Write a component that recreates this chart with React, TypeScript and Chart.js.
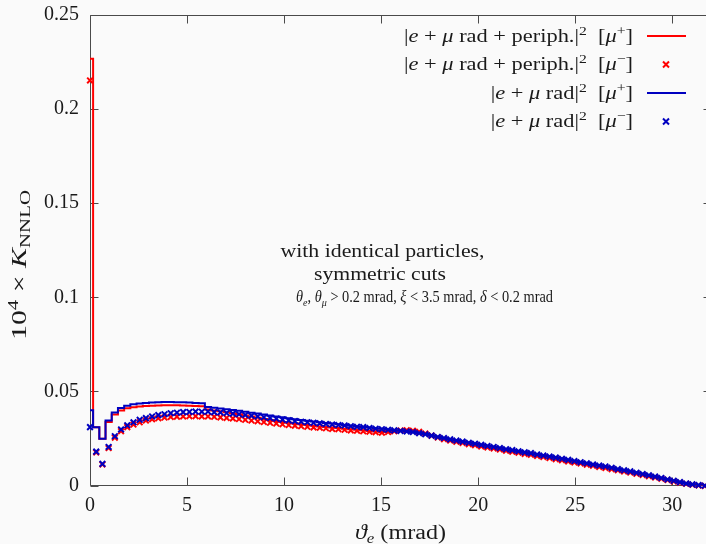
import React, { useEffect, useRef } from "react";
import { Chart, registerables } from "chart.js";
Chart.register(...registerables);

// theta_e bin positions (mrad)
const xBins = [0, 0.32, 0.64, 0.96, 1.28, 1.6, 1.92, 2.24, 2.56, 2.88, 3.2, 3.52, 3.84, 4.16, 4.48, 4.8, 5.12, 5.44, 5.76, 6.08,
  6.4, 6.72, 7.04, 7.36, 7.68, 8, 8.32, 8.64, 8.96, 9.28, 9.6, 9.92, 10.24, 10.56, 10.88, 11.2, 11.52, 11.84, 12.16, 12.48,
  12.8, 13.12, 13.44, 13.76, 14.08, 14.4, 14.72, 15.04, 15.36, 15.68, 16, 16.32, 16.64, 16.96, 17.28, 17.6, 17.92, 18.24, 18.56, 18.88,
  19.2, 19.52, 19.84, 20.16, 20.48, 20.8, 21.12, 21.44, 21.76, 22.08, 22.4, 22.72, 23.04, 23.36, 23.68, 24, 24.32, 24.64, 24.96, 25.28,
  25.6, 25.92, 26.24, 26.56, 26.88, 27.2, 27.52, 27.84, 28.16, 28.48, 28.8, 29.12, 29.44, 29.76, 30.08, 30.4, 30.72, 31.04, 31.36, 31.68];

// |e + mu rad + periph.|^2 [mu+]  (red step line)
const redLine = [0.2267, 0.0310, 0.0248, 0.0337, 0.0377, 0.0398, 0.0410, 0.0416, 0.0420, 0.0422,
  0.0424, 0.0425, 0.0426, 0.0426, 0.0426, 0.0425, 0.0424, 0.0423, 0.0421, 0.0404,
  0.0399, 0.0394, 0.0389, 0.0384, 0.0378, 0.0372, 0.0366, 0.0360, 0.0354, 0.0348,
  0.0343, 0.0338, 0.0333, 0.0329, 0.0325, 0.0321, 0.0318, 0.0314, 0.0311, 0.0308,
  0.0305, 0.0302, 0.0299, 0.0296, 0.0293, 0.0290, 0.0287, 0.0284, 0.0286, 0.0290,
  0.0293, 0.0295, 0.0292, 0.0286, 0.0277, 0.0266, 0.0256, 0.0247, 0.0240, 0.0233,
  0.0227, 0.0221, 0.0215, 0.0209, 0.0203, 0.0198, 0.0192, 0.0186, 0.0181, 0.0175,
  0.0169, 0.0164, 0.0158, 0.0153, 0.0147, 0.0141, 0.0135, 0.0129, 0.0124, 0.0118,
  0.0112, 0.0106, 0.0100, 0.0094, 0.0088, 0.0082, 0.0076, 0.0070, 0.0063, 0.0057,
  0.0050, 0.0044, 0.0037, 0.0030, 0.0023, 0.0016, 0.0010, 0.0005, 0.0001, 0.0000];

// |e + mu rad + periph.|^2 [mu-]  (red crosses)
const redPts = [0.2152, 0.0176, 0.0112, 0.0199, 0.0254, 0.0289, 0.0310, 0.0324, 0.0336, 0.0345,
  0.0352, 0.0357, 0.0361, 0.0364, 0.0366, 0.0367, 0.0368, 0.0368, 0.0367, 0.0367,
  0.0365, 0.0362, 0.0359, 0.0356, 0.0353, 0.0349, 0.0345, 0.0341, 0.0337, 0.0333,
  0.0329, 0.0325, 0.0321, 0.0318, 0.0315, 0.0312, 0.0309, 0.0307, 0.0304, 0.0301,
  0.0299, 0.0296, 0.0293, 0.0291, 0.0288, 0.0286, 0.0283, 0.0281, 0.0284, 0.0288,
  0.0292, 0.0294, 0.0291, 0.0285, 0.0276, 0.0265, 0.0255, 0.0246, 0.0239, 0.0232,
  0.0226, 0.0220, 0.0214, 0.0208, 0.0202, 0.0197, 0.0191, 0.0185, 0.0180, 0.0174,
  0.0168, 0.0163, 0.0157, 0.0152, 0.0146, 0.0140, 0.0134, 0.0128, 0.0123, 0.0117,
  0.0111, 0.0105, 0.0099, 0.0093, 0.0087, 0.0081, 0.0075, 0.0069, 0.0062, 0.0056,
  0.0049, 0.0043, 0.0036, 0.0029, 0.0022, 0.0015, 0.0009, 0.0004, 0.0000, -0.0002];

// |e + mu rad|^2 [mu+]  (blue step line)
const blueLine = [0.0400, 0.0310, 0.0248, 0.0345, 0.0388, 0.0412, 0.0424, 0.0432, 0.0436, 0.0439,
  0.0441, 0.0443, 0.0444, 0.0444, 0.0443, 0.0442, 0.0441, 0.0439, 0.0437, 0.0417,
  0.0413, 0.0409, 0.0405, 0.0401, 0.0397, 0.0392, 0.0387, 0.0382, 0.0377, 0.0372,
  0.0367, 0.0362, 0.0357, 0.0352, 0.0348, 0.0344, 0.0340, 0.0336, 0.0332, 0.0329,
  0.0325, 0.0321, 0.0318, 0.0314, 0.0311, 0.0308, 0.0304, 0.0301, 0.0297, 0.0294,
  0.0291, 0.0288, 0.0284, 0.0279, 0.0273, 0.0266, 0.0259, 0.0253, 0.0246, 0.0240,
  0.0234, 0.0228, 0.0222, 0.0217, 0.0211, 0.0206, 0.0200, 0.0194, 0.0189, 0.0183,
  0.0177, 0.0172, 0.0166, 0.0160, 0.0155, 0.0149, 0.0143, 0.0137, 0.0131, 0.0125,
  0.0119, 0.0113, 0.0107, 0.0101, 0.0095, 0.0088, 0.0082, 0.0076, 0.0069, 0.0062,
  0.0055, 0.0048, 0.0041, 0.0033, 0.0026, 0.0019, 0.0012, 0.0007, 0.0003, 0.0000];

// |e + mu rad|^2 [mu-]  (blue crosses)
const bluePts = [0.0310, 0.0180, 0.0115, 0.0205, 0.0262, 0.0298, 0.0320, 0.0336, 0.0349, 0.0358,
  0.0367, 0.0374, 0.0379, 0.0384, 0.0387, 0.0390, 0.0391, 0.0393, 0.0392, 0.0393,
  0.0390, 0.0388, 0.0385, 0.0382, 0.0379, 0.0375, 0.0371, 0.0367, 0.0363, 0.0359,
  0.0355, 0.0350, 0.0346, 0.0342, 0.0339, 0.0336, 0.0333, 0.0330, 0.0327, 0.0324,
  0.0321, 0.0319, 0.0315, 0.0312, 0.0310, 0.0306, 0.0302, 0.0299, 0.0296, 0.0293,
  0.0290, 0.0287, 0.0284, 0.0278, 0.0272, 0.0265, 0.0258, 0.0252, 0.0245, 0.0239,
  0.0233, 0.0227, 0.0222, 0.0216, 0.0210, 0.0205, 0.0199, 0.0193, 0.0188, 0.0182,
  0.0176, 0.0172, 0.0165, 0.0159, 0.0154, 0.0148, 0.0142, 0.0136, 0.0130, 0.0124,
  0.0118, 0.0112, 0.0106, 0.0101, 0.0094, 0.0087, 0.0081, 0.0075, 0.0068, 0.0061,
  0.0054, 0.0047, 0.0040, 0.0032, 0.0025, 0.0018, 0.0011, 0.0006, 0.0002, -0.0001];

const xTicks = [0, 5, 10, 15, 20, 25, 30];
const yTicks = [0, 0.05, 0.1, 0.15, 0.2, 0.25];
const yTickLabels = ["0", "0.05", "0.1", "0.15", "0.2", "0.25"];

const RED = "#ff0000";
const BLUE = "#0000c0";
const TEXT = "#1a1a1a";
const FAMILY = "'Liberation Serif', 'DejaVu Serif', serif";

type Seg = { t: string; i?: boolean; s?: "sub" | "sup" };

const legendRows: { segs: Seg[]; color: string; kind: "line" | "cross" }[] = [
  { segs: [{ t: "|" }, { t: "e", i: true }, { t: " + " }, { t: "μ", i: true }, { t: " rad + periph.|" }, { t: "2", s: "sup" }, { t: "  [" }, { t: "μ", i: true }, { t: "+", s: "sup" }, { t: "]" }], color: RED, kind: "line" },
  { segs: [{ t: "|" }, { t: "e", i: true }, { t: " + " }, { t: "μ", i: true }, { t: " rad + periph.|" }, { t: "2", s: "sup" }, { t: "  [" }, { t: "μ", i: true }, { t: "−", s: "sup" }, { t: "]" }], color: RED, kind: "cross" },
  { segs: [{ t: "|" }, { t: "e", i: true }, { t: " + " }, { t: "μ", i: true }, { t: " rad|" }, { t: "2", s: "sup" }, { t: "  [" }, { t: "μ", i: true }, { t: "+", s: "sup" }, { t: "]" }], color: BLUE, kind: "line" },
  { segs: [{ t: "|" }, { t: "e", i: true }, { t: " + " }, { t: "μ", i: true }, { t: " rad|" }, { t: "2", s: "sup" }, { t: "  [" }, { t: "μ", i: true }, { t: "−", s: "sup" }, { t: "]" }], color: BLUE, kind: "cross" },
];

const note1: Seg[] = [{ t: "with identical particles," }];
const note2: Seg[] = [{ t: "symmetric cuts" }];
const note3: Seg[] = [
  { t: "θ", i: true }, { t: "e", i: true, s: "sub" }, { t: ", " }, { t: "θ", i: true }, { t: "μ", i: true, s: "sub" },
  { t: " > 0.2 mrad, " }, { t: "ξ", i: true }, { t: " < 3.5 mrad, " }, { t: "δ", i: true }, { t: " < 0.2 mrad" },
];
const xTitle: Seg[] = [{ t: "ϑ", i: true }, { t: "e", i: true, s: "sub" }, { t: " (mrad)" }];
const yTitle: Seg[] = [{ t: "10" }, { t: "4", s: "sup" }, { t: " × " }, { t: "K", i: true }, { t: "NNLO", s: "sub" }];

function fontFor(seg: Seg, size: number) {
  const sz = seg.s ? size * 0.7 : size;
  return `${seg.i ? "italic " : ""}${sz}px ${FAMILY}`;
}
function measure(ctx: CanvasRenderingContext2D, segs: Seg[], size: number) {
  let w = 0;
  for (const s of segs) {
    ctx.font = fontFor(s, size);
    w += ctx.measureText(s.t).width;
  }
  return w;
}
// draws rich text with fixed font size; if targetW is given, it is stretched horizontally to that width
function drawRich(ctx: CanvasRenderingContext2D, segs: Seg[], x: number, yMid: number, align: "left" | "right" | "center", size: number, targetW?: number) {
  const nat = measure(ctx, segs, size);
  const sx = targetW ? targetW / nat : 1;
  const w = nat * sx;
  const x0 = align === "left" ? x : align === "right" ? x - w : x - w / 2;
  const base = yMid + 0.33 * size;
  ctx.save();
  ctx.translate(x0, 0);
  ctx.scale(sx, 1);
  ctx.textAlign = "left";
  ctx.textBaseline = "alphabetic";
  ctx.fillStyle = TEXT;
  let cx = 0;
  for (const s of segs) {
    ctx.font = fontFor(s, size);
    const dy = s.s === "sup" ? -0.4 * size : s.s === "sub" ? 0.22 * size : 0;
    ctx.fillText(s.t, cx, base + dy);
    cx += ctx.measureText(s.t).width;
  }
  ctx.restore();
}

const framePlugin = {
  id: "frame",
  beforeDatasetsDraw(chart: any) {
    const { ctx, chartArea: a, scales } = chart;
    ctx.save();
    ctx.strokeStyle = "#4a4a4a";
    ctx.lineWidth = 1;
    const L = Math.round(a.left) + 0.5, R = Math.round(a.right) + 0.5;
    const T = Math.round(a.top) + 0.5, B = Math.floor(a.bottom) + 0.5;
    ctx.beginPath();
    ctx.moveTo(L, T); ctx.lineTo(R, T); ctx.lineTo(R, B); ctx.lineTo(L, B); ctx.closePath();
    for (const v of xTicks) {
      const px = Math.round(scales.x.getPixelForValue(v)) + 0.5;
      ctx.moveTo(px, B); ctx.lineTo(px, B - 8);
      ctx.moveTo(px, T); ctx.lineTo(px, T + 8);
    }
    for (const v of yTicks) {
      const py = Math.round(scales.y.getPixelForValue(v)) + 0.5;
      ctx.moveTo(L, py); ctx.lineTo(L + 8, py);
      ctx.moveTo(R, py); ctx.lineTo(R - 8, py);
    }
    ctx.stroke();
    ctx.restore();
  },
};

const overlayPlugin = {
  id: "overlay",
  afterDraw(chart: any) {
    const { ctx } = chart;
    ctx.save();
    // legend
    const rowsY = [36, 64.5, 93, 121.5];
    const natL1 = measure(ctx, legendRows[0].segs, 18);
    const sxL = 229 / natL1;
    legendRows.forEach((row, k) => {
      const y = rowsY[k];
      const w = measure(ctx, row.segs, 18) * sxL;
      drawRich(ctx, row.segs, 633, y, "right", 18, w);
      ctx.strokeStyle = row.color;
      ctx.lineWidth = 2;
      if (row.kind === "line") {
        ctx.beginPath(); ctx.moveTo(647, y); ctx.lineTo(686, y); ctx.stroke();
      } else {
        const r = 3;
        ctx.beginPath();
        ctx.moveTo(666 - r, y - r); ctx.lineTo(666 + r, y + r);
        ctx.moveTo(666 - r, y + r); ctx.lineTo(666 + r, y - r);
        ctx.stroke();
      }
    });
    // annotation
    drawRich(ctx, note1, 382.5, 251, "center", 18, 204);
    drawRich(ctx, note2, 380, 274.5, "center", 18, 132);
    drawRich(ctx, note3, 296, 297, "left", 16, 257);
    // axis titles
    drawRich(ctx, xTitle, 400.5, 532, "center", 20, 91);
    ctx.translate(19, 265);
    ctx.rotate(-Math.PI / 2);
    drawRich(ctx, yTitle, 0, 0, "center", 20, 150);
    ctx.restore();
  },
};

export default function App() {
  const ref = useRef<HTMLCanvasElement>(null);
  useEffect(() => {
    const canvas = ref.current;
    if (!canvas) return;
    const pts = (ys: number[]) => xBins.map((x, i) => ({ x, y: ys[i] }));
    const chart = new Chart(canvas, {
      type: "line",
      data: {
        datasets: [
          { label: "blue crosses", data: pts(bluePts), showLine: false, pointStyle: "crossRot", pointRadius: 4, pointBorderWidth: 2, borderColor: BLUE, backgroundColor: BLUE, order: 0, clip: false } as any,
          { label: "blue line", data: pts(blueLine), stepped: "middle", borderColor: BLUE, borderWidth: 2, pointRadius: 0, fill: false, order: 1 },
          { label: "red crosses", data: pts(redPts), showLine: false, pointStyle: "crossRot", pointRadius: 4, pointBorderWidth: 2, borderColor: RED, backgroundColor: RED, order: 2, clip: false } as any,
          { label: "red line", data: pts(redLine), stepped: "middle", borderColor: RED, borderWidth: 2, pointRadius: 0, fill: false, order: 3 },
        ],
      },
      options: {
        animation: false,
        responsive: false,
        devicePixelRatio: 1,
        layout: { padding: { left: 0, right: 9, top: 15, bottom: 0 } },
        plugins: { legend: { display: false }, tooltip: { enabled: false } },
        scales: {
          x: {
            type: "linear",
            min: 0,
            max: 32,
            afterBuildTicks: (s: any) => { s.ticks = xTicks.map((v) => ({ value: v })); },
            afterFit: (s: any) => { s.height = 58.5; s.paddingLeft = 0; s.paddingRight = 0; },
            ticks: { color: TEXT, font: { family: FAMILY, size: 20 }, padding: 8, maxRotation: 0, autoSkip: false, callback: (v: any) => String(v) },
            grid: { display: false, drawTicks: false },
            border: { display: false },
          },
          y: {
            type: "linear",
            min: 0,
            max: 0.25,
            afterBuildTicks: (s: any) => { s.ticks = yTicks.map((v) => ({ value: v })); },
            afterFit: (s: any) => { s.width = 90; s.paddingTop = 0; s.paddingBottom = 0; },
            ticks: { color: TEXT, font: { family: FAMILY, size: 20 }, padding: 11, autoSkip: false, callback: (v: any) => { const k = yTicks.findIndex((t) => Math.abs(t - v) < 1e-9); return k >= 0 ? yTickLabels[k] : ""; } },
            grid: { display: false, drawTicks: false },
            border: { display: false },
          },
        },
      },
      plugins: [framePlugin, overlayPlugin],
    } as any);
    return () => chart.destroy();
  }, []);
  return (
    <div style={{ position: "fixed", left: 0, top: 0, width: 706, height: 544, overflow: "hidden", background: "#fafafa" }}>
      <canvas ref={ref} width={720} height={544} style={{ display: "block", width: 720, height: 544 }} />
    </div>
  );
}
